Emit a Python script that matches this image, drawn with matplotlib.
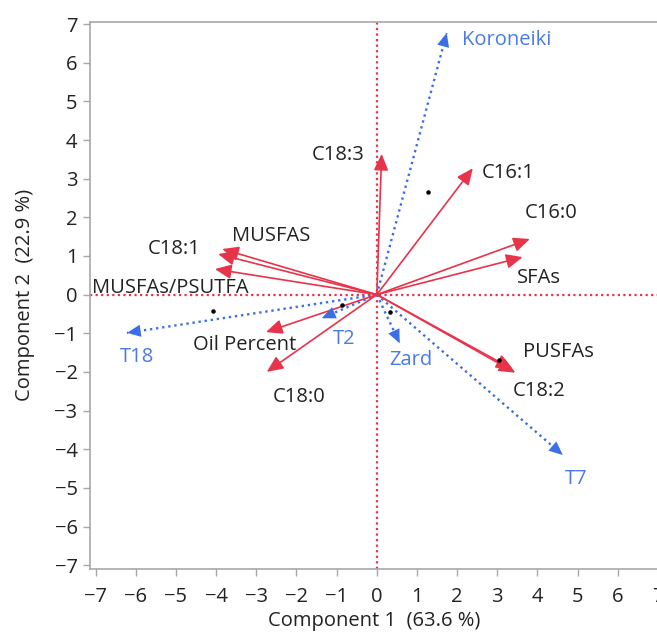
import numpy as np
import matplotlib
matplotlib.use("Agg")
import matplotlib.pyplot as plt

plt.rcParams["font.family"] = ["Open Sans", "DejaVu Sans"]

# loading vectors (variables, red)
var_names = ["C18:3", "C16:1", "C16:0", "SFAs", "MUSFAS", "C18:1",
             "MUSFAs/PSUTFA", "Oil Percent", "C18:0", "PUSFAs", "C18:2"]
var_x = [0.12, 2.39, 3.81, 3.63, -3.85, -3.95, -4.03, -2.76, -2.74, 3.38, 3.45]
var_y = [3.64, 3.27, 1.44, 0.97, 1.18, 1.05, 0.66, -0.97, -2.00, -1.93, -2.02]

# cultivar vectors (blue, dotted)
cult_names = ["Koroneiki", "T18", "T2", "Zard", "T7"]
cult_x = [1.74, -6.22, -1.37, 0.57, 4.63]
cult_y = [6.77, -0.99, -0.61, -1.26, -4.15]

# score points
pt_x = [1.27, -4.08, -0.87, 0.32, 3.03]
pt_y = [2.65, -0.43, -0.27, -0.45, -1.70]

# label anchor points
var_lab_x = [-0.30, 2.61, 3.68, 3.48, -3.61, -5.70, -7.09, -4.58, -2.59, 3.63, 3.38]
var_lab_y = [3.61, 3.14, 2.11, 0.43, 1.51, 1.18, 0.17, -1.31, -2.65, -1.49, -2.50]
cult_lab_x = [2.12, -6.39, -1.09, 0.32, 4.67]
cult_lab_y = [6.59, -1.62, -1.15, -1.70, -4.77]

RED = "#e8334a"
BLUE = "#3b6fe6"
BLUE_TXT = "#4a7ae6"
TXT = "#222222"
GRAY = "#a8a8a8"
FS = 14.5
HEAD = "-|>,head_length=0.9,head_width=0.4"

fig = plt.figure(figsize=(6.57, 6.34), dpi=100)
ax = fig.add_axes([0.137, 0.1025, 0.8645, 0.8635])

ax.axvline(0, color=RED, lw=1.6, ls=(0, (1, 1.5)), zorder=1)
ax.axhline(0, color=RED, lw=1.6, ls=(0, (1, 1.5)), zorder=1)

for name, x, y, lx, ly in zip(var_names, var_x, var_y, var_lab_x, var_lab_y):
    ax.annotate("", xy=(x, y), xytext=(0, 0),
                arrowprops=dict(arrowstyle=HEAD, color=RED, lw=1.2,
                                shrinkA=0, shrinkB=0, mutation_scale=11),
                zorder=3)
    ha = "right" if name == "C18:3" else "left"
    ax.text(lx, ly, name, color=TXT, fontsize=FS, ha=ha, va="center", zorder=4)

for name, x, y, lx, ly in zip(cult_names, cult_x, cult_y, cult_lab_x, cult_lab_y):
    ax.plot([0, x], [0, y], color=BLUE, lw=1.7, ls=(0, (1, 1.6)), zorder=2)
    ax.annotate("", xy=(x, y), xytext=(x * 0.97, y * 0.97),
                arrowprops=dict(arrowstyle=HEAD, color=BLUE, lw=0,
                                shrinkA=0, shrinkB=0, mutation_scale=11),
                zorder=3)
    ax.text(lx, ly, name, color=BLUE_TXT, fontsize=FS, ha="left", va="center", zorder=4)

ax.scatter(pt_x, pt_y, s=5, color="black", zorder=5)

ax.set_xlim(-7.14, 7.0)
ax.set_ylim(-7.10, 7.065)
ax.set_xticks(np.arange(-7, 8))
ax.set_yticks(np.arange(-7, 8))
ax.tick_params(direction="out", length=5, width=1, color=GRAY,
               labelsize=FS, labelcolor=TXT)
ax.tick_params(axis="x", pad=8)
ax.tick_params(axis="y", pad=4)
for t in ax.xaxis.get_major_ticks() + ax.yaxis.get_major_ticks():
    if t.get_loc() == 0:
        t.tick1line.set_color(RED)
for s in ax.spines.values():
    s.set_color(GRAY)
    s.set_linewidth(1.2)

ax.set_xlabel("Component 1  (63.6 %)", fontsize=FS, color=TXT, labelpad=3)
ax.set_ylabel("Component 2  (22.9 %)", fontsize=FS, color=TXT, labelpad=14)

fig.savefig("out.png", dpi=100, facecolor="white")
